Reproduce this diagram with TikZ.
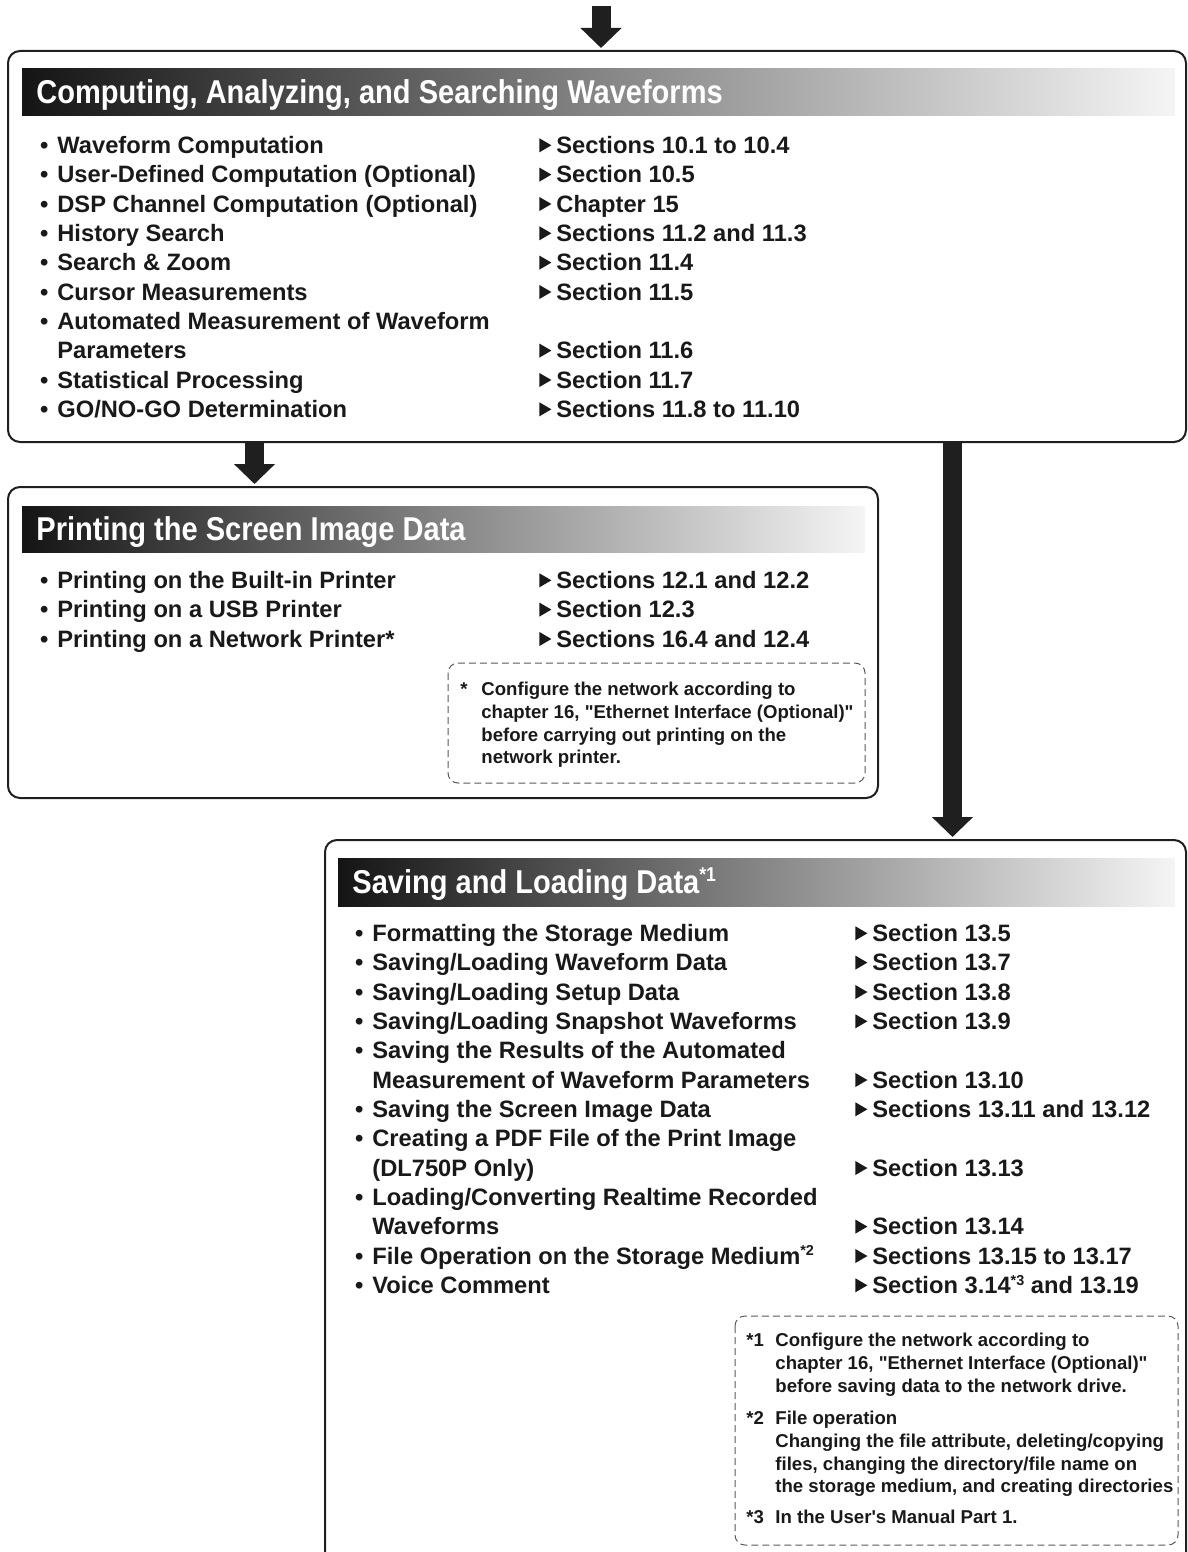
\documentclass[tikz,border=0pt]{standalone}
\usepackage{fontspec}
\setmainfont{Liberation Sans}
\newfontfamily\headfamily{Liberation Sans}[FakeStretch=0.88]
\usetikzlibrary{arrows.meta}
\newcommand{\itemfont}{\fontsize{11.85pt}{14pt}\selectfont\bfseries}
\newcommand{\headfont}{\headfamily\fontsize{16.5pt}{18pt}\selectfont\bfseries}
\newcommand{\notefont}{\fontsize{9.3pt}{11.3pt}\selectfont\bfseries}
\newcommand{\tri}{\tikz[baseline=0pt]\fill[black!90] (0pt,0.6pt) -- (0pt,7.6pt) -- (6pt,4.1pt) -- cycle;}
\newcommand{\bul}{\llap{\textbullet\hspace{4.5pt}}}
\newcommand{\qq}{\textquotedbl}
\newcommand{\fnmark}[1]{\raisebox{4.2pt}{\fontsize{7.2pt}{7.2pt}\selectfont #1}}
\tikzset{
  panel/.style    = {draw=black!88, line width=1pt, rounded corners=6pt},
  headbar/.style  = {left color=black!92, right color=black!4},
  headtext/.style = {anchor=base west, inner sep=0pt, text=white, font=\headfont},
  item/.style     = {anchor=base west, inner sep=0pt, text=black!90, font=\itemfont},
  ref/.style      = {anchor=base west, inner sep=0pt, text=black!90, font=\itemfont,
                     execute at begin node={\llap{\tri\hspace{2.5pt}}}},
  note/.style     = {draw=black!65, line width=0.5pt, dash pattern=on 3.5pt off 2pt,
                     rounded corners=5pt},
  notetext/.style = {anchor=north west, inner sep=0pt, text=black!90, font=\notefont,
                     align=left},
  flow/.style     = {line width=9.5pt, black!88, -{Triangle[width=20pt, length=10pt]}},
}

\begin{document}
\begin{tikzpicture}[x=0.5pt, y=-0.5pt]
  \useasboundingbox (0,0) rectangle (1188,1552);

  % --- computing / analyzing panel -------------------------------------
  \draw[panel] (8,51) rectangle (1186,442);
  \shade[headbar] (22,69) rectangle (1175,116);
  \node[headtext] (hcomp) at (36,104) {Computing, Analyzing, and Searching Waveforms};

  \node[item] (ci1)  at (57,153.5) {\bul Waveform Computation};
  \node[item] (ci2)  at (57,182.8) {\bul User-Defined Computation (Optional)};
  \node[item] (ci3)  at (57,212.2) {\bul DSP Channel Computation (Optional)};
  \node[item] (ci4)  at (57,241.5) {\bul History Search};
  \node[item] (ci5)  at (57,270.8) {\bul Search \& Zoom};
  \node[item] (ci6)  at (57,300.2) {\bul Cursor Measurements};
  \node[item] (ci7)  at (57,329.5) {\bul Automated Measurement of Waveform};
  \node[item] (ci7b) at (57,358.8) {Parameters};
  \node[item] (ci8)  at (57,388.2) {\bul Statistical Processing};
  \node[item] (ci9)  at (57,417.5) {\bul GO/NO-GO Determination};

  \node[ref] (cr1) at (556,153.5) {Sections 10.1 to 10.4};
  \node[ref] (cr2) at (556,182.8) {Section 10.5};
  \node[ref] (cr3) at (556,212.2) {Chapter 15};
  \node[ref] (cr4) at (556,241.5) {Sections 11.2 and 11.3};
  \node[ref] (cr5) at (556,270.8) {Section 11.4};
  \node[ref] (cr6) at (556,300.2) {Section 11.5};
  \node[ref] (cr7) at (556,358.8) {Section 11.6};
  \node[ref] (cr8) at (556,388.2) {Section 11.7};
  \node[ref] (cr9) at (556,417.5) {Sections 11.8 to 11.10};

  % --- printing panel --------------------------------------------------
  \draw[panel] (8,487) rectangle (878,798);
  \shade[headbar] (22,506) rectangle (865,552);
  \node[headtext] (hprint) at (36,540.5) {Printing the Screen Image Data};

  \node[item] (pi1) at (57,588.5) {\bul Printing on the Built-in Printer};
  \node[item] (pi2) at (57,617.8) {\bul Printing on a USB Printer};
  \node[item] (pi3) at (57,647.2) {\bul Printing on a Network Printer*};

  \node[ref] (pr1) at (556,588.5) {Sections 12.1 and 12.2};
  \node[ref] (pr2) at (556,617.8) {Section 12.3};
  \node[ref] (pr3) at (556,647.2) {Sections 16.4 and 12.4};

  \draw[note] (448,663) rectangle (865,783);
  \node[notetext] (pmark) at (460,682) {*};
  \node[notetext] (pnote) at (481,682)
    {Configure the network according to\\
     chapter 16, \qq Ethernet Interface (Optional)\qq\\
     before carrying out printing on the\\
     network printer.};

  % --- saving / loading panel ------------------------------------------
  \draw[panel] (325,1552) -- (325,840) -- (1186,840) -- (1186,1552);
  \shade[headbar] (338,858) rectangle (1175,906);
  \node[headtext] (hsave) at (352,893)
    {Saving and Loading Data\raisebox{6pt}{\fontsize{10pt}{10pt}\selectfont *1}};

  \node[item] (si1)  at (372,941.5)  {\bul Formatting the Storage Medium};
  \node[item] (si2)  at (372,970.8)  {\bul Saving/Loading Waveform Data};
  \node[item] (si3)  at (372,1000.2) {\bul Saving/Loading Setup Data};
  \node[item] (si4)  at (372,1029.5) {\bul Saving/Loading Snapshot Waveforms};
  \node[item] (si5)  at (372,1058.8) {\bul Saving the Results of the Automated};
  \node[item] (si5b) at (372,1088.2) {Measurement of Waveform Parameters};
  \node[item] (si6)  at (372,1117.5) {\bul Saving the Screen Image Data};
  \node[item] (si7)  at (372,1146.8) {\bul Creating a PDF File of the Print Image};
  \node[item] (si7b) at (372,1176.2) {(DL750P Only)};
  \node[item] (si8)  at (372,1205.5) {\bul Loading/Converting Realtime Recorded};
  \node[item] (si8b) at (372,1234.8) {Waveforms};
  \node[item] (si9)  at (372,1264.2) {\bul File Operation on the Storage Medium\fnmark{*2}};
  \node[item] (si10) at (372,1293.5) {\bul Voice Comment};

  \node[ref] (sr1)  at (872,941.5)  {Section 13.5};
  \node[ref] (sr2)  at (872,970.8)  {Section 13.7};
  \node[ref] (sr3)  at (872,1000.2) {Section 13.8};
  \node[ref] (sr4)  at (872,1029.5) {Section 13.9};
  \node[ref] (sr5)  at (872,1088.2) {Section 13.10};
  \node[ref] (sr6)  at (872,1117.5) {Sections 13.11 and 13.12};
  \node[ref] (sr7)  at (872,1176.2) {Section 13.13};
  \node[ref] (sr8)  at (872,1234.8) {Section 13.14};
  \node[ref] (sr9)  at (872,1264.2) {Sections 13.15 to 13.17};
  \node[ref] (sr10) at (872,1293.5) {Section 3.14\fnmark{*3} and 13.19};

  \draw[note] (735,1316) rectangle (1178,1545);
  \node[notetext] (smark1) at (746,1333) {*1};
  \node[notetext] (snote1) at (775,1333)
    {Configure the network according to\\
     chapter 16, \qq Ethernet Interface (Optional)\qq\\
     before saving data to the network drive.};
  \node[notetext] (smark2) at (746,1411) {*2};
  \node[notetext] (snote2) at (775,1411)
    {File operation\\
     Changing the file attribute, deleting/copying\\
     files, changing the directory/file name on\\
     the storage medium, and creating directories};
  \node[notetext] (smark3) at (746,1510) {*3};
  \node[notetext] (snote3) at (775,1510) {In the User\textquotesingle s Manual Part 1.};

  % --- flow arrows -----------------------------------------------------
  \coordinate (start)  at (601,6);
  \coordinate (comptop) at (601,48);
  \coordinate (compl)  at (254.5,443);
  \coordinate (printtop) at (254.5,484);
  \coordinate (compr)  at (952.5,443);
  \coordinate (savetop) at (952.5,837);

  \draw[flow] (start) -- (comptop);
  \draw[flow] (compl) -- (printtop);
  \draw[flow] (compr) -- (savetop);

\end{tikzpicture}
\end{document}
